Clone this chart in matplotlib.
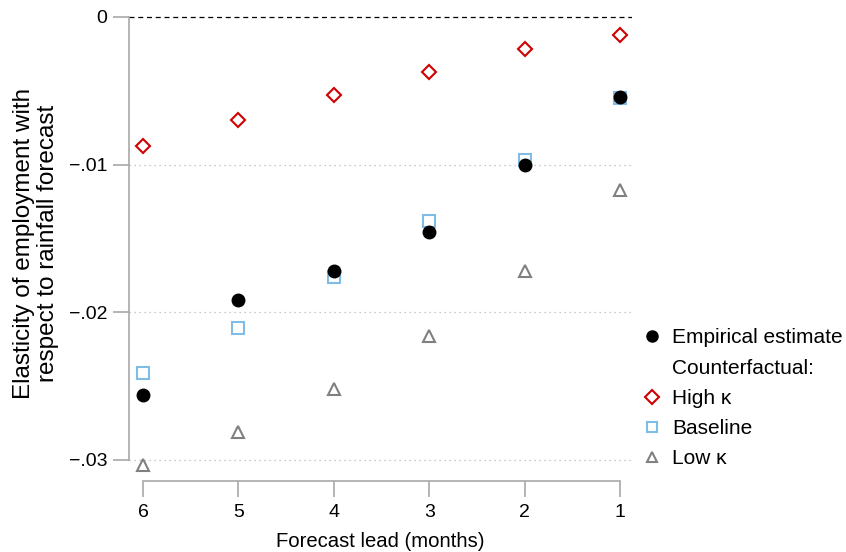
import matplotlib
matplotlib.use("Agg")
import matplotlib.pyplot as plt
from matplotlib.lines import Line2D

plt.rcParams["font.family"] = ["Liberation Sans", "DejaVu Sans"]

leads = [6, 5, 4, 3, 2, 1]
empirical = [-0.0256, -0.0192, -0.0172, -0.0146, -0.0100, -0.0054]
high_k = [-0.00875, -0.0070, -0.0053, -0.0037, -0.0022, -0.0012]
baseline = [-0.0241, -0.0211, -0.0176, -0.0138, -0.0097, -0.0055]
low_k = [-0.0304, -0.0281, -0.0252, -0.0216, -0.0172, -0.0117]

yticks = [0, -0.01, -0.02, -0.03]
ytick_labels = ["0", "\u2212.01", "\u2212.02", "\u2212.03"]

red, blue, grey = "#d00000", "#7fbde6", "#808080"
spine_col = "#a8a8a8"

fig = plt.figure(figsize=(8.46, 5.52), dpi=100)
ax = fig.add_axes([0.1525, 0.1413, 0.5946, 0.837])

for y in yticks[1:]:
    ax.axhline(y, color="#b8b8b8", lw=0.9, ls=(0, (1, 3)), zorder=0)
ax.axhline(0, color="black", lw=0.9, ls=(0, (4, 3)), zorder=0)

ax.plot(leads, high_k, "D", ms=7.5, mfc="none", mec=red, mew=1.5, ls="none")
ax.plot(leads, baseline, "s", ms=8, mfc="none", mec=blue, mew=1.5, ls="none")
ax.plot(leads, low_k, "^", ms=8.5, mfc="none", mec=grey, mew=1.5, ls="none")
ax.plot(leads, empirical, "o", ms=9, color="black", ls="none")

ax.set_xlim(6.147, 0.874)
ax.set_ylim(-0.03098, 0.00034)
ax.set_xticks(leads)
ax.set_yticks(yticks)
ax.set_yticklabels(ytick_labels)

for s in ["top", "right"]:
    ax.spines[s].set_visible(False)
ax.spines["left"].set_bounds(-0.03, 0)
ax.spines["bottom"].set_bounds(1, 6)
ax.spines["bottom"].set_position(("outward", 5))
for s in ["left", "bottom"]:
    ax.spines[s].set_color(spine_col)
    ax.spines[s].set_linewidth(1.2)
ax.tick_params(length=11.5, width=1.2, color=spine_col, labelsize=14, pad=4)
ax.tick_params(axis="x", pad=5)

ax.set_xlabel("Forecast lead (months)", fontsize=14.6, labelpad=8)
ax.set_ylabel("Elasticity of employment with\nrespect to rainfall forecast",
              fontsize=17.5, labelpad=7, linespacing=1.15)

handles = [
    Line2D([], [], marker="o", ms=8, color="black", ls="none"),
    Line2D([], [], ls="none"),
    Line2D([], [], marker="D", ms=7, mfc="none", mec=red, mew=1.5, ls="none"),
    Line2D([], [], marker="s", ms=7, mfc="none", mec=blue, mew=1.5, ls="none"),
    Line2D([], [], marker="^", ms=7.5, mfc="none", mec=grey, mew=1.5, ls="none"),
]
labels = ["Empirical estimate", "Counterfactual:", "High \u03ba", "Baseline", "Low \u03ba"]
fig.legend(handles, labels, loc="upper left", bbox_to_anchor=(0.751, 0.42),
           frameon=False, fontsize=15, handlelength=0.8, handletextpad=0.55,
           labelspacing=0.54, borderaxespad=0)

fig.savefig("out.png", dpi=100)
